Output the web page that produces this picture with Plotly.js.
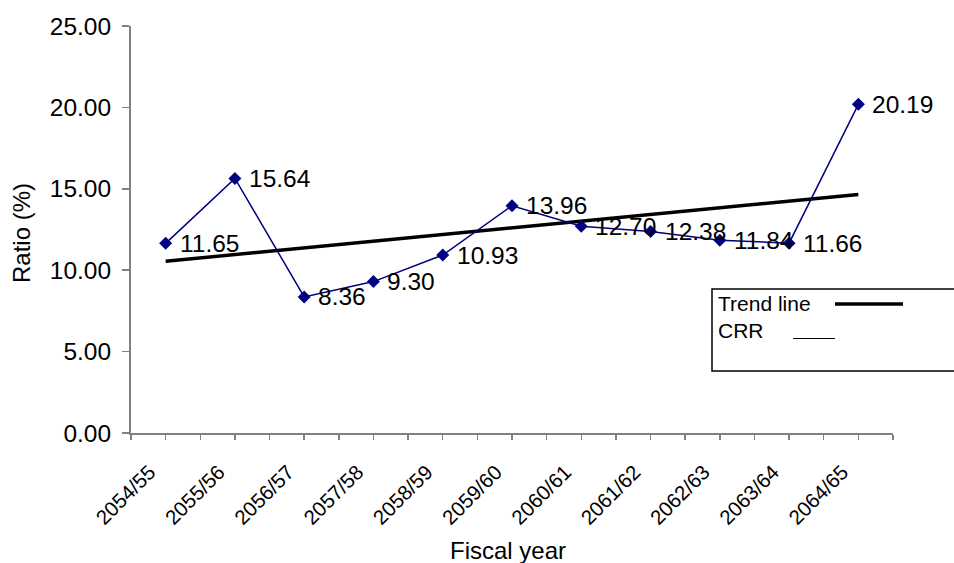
<!DOCTYPE html>
<html>
<head>
<meta charset="utf-8">
<script src="https://cdn.plot.ly/plotly-3.0.1.min.js"></script>
<style>
  html, body { margin: 0; padding: 0; background: #fff; }
  #chart { width: 954px; height: 563px; }
</style>
</head>
<body>
<div id="chart"></div>
<script>
// Fiscal years and cash reserve ratio (%)
const fiscalYears = ["2054/55", "2055/56", "2056/57", "2057/58", "2058/59", "2059/60",
                     "2060/61", "2061/62", "2062/63", "2063/64", "2064/65"];
const crrValues = [11.65, 15.64, 8.36, 9.30, 10.93, 13.96, 12.70, 12.38, 11.84, 11.66, 20.19];
const yTicks = [0, 5, 10, 15, 20, 25];

const W = 954, H = 563;
const M = { l: 131, r: 61, t: 26, b: 130 };
const plotW = W - M.l - M.r, plotH = H - M.t - M.b;
// pixel -> paper coordinates for the hand-drawn legend box and titles
const px = v => (v - M.l) / plotW;
const py = v => (H - M.b - v) / plotH;

const idx = fiscalYears.map((_, i) => i);

// least-squares trend over the fiscal-year index
const n = crrValues.length;
const mx = idx.reduce((a, b) => a + b, 0) / n;
const my = crrValues.reduce((a, b) => a + b, 0) / n;
let sxy = 0, sxx = 0;
idx.forEach((x, i) => { sxy += (x - mx) * (crrValues[i] - my); sxx += (x - mx) * (x - mx); });
const slope = sxy / sxx, icpt = my - slope * mx;
const trendY = idx.map(x => icpt + slope * x);

const font = "Liberation Sans, Arial, sans-serif";

const trend = {
  x: idx, y: trendY, mode: "lines", name: "Trend line",
  line: { color: "#000000", width: 3.5 }, hoverinfo: "skip"
};
const crr = {
  x: idx, y: crrValues, mode: "lines+markers", name: "CRR",
  line: { color: "#000080", width: 1.5 },
  marker: { symbol: "diamond", size: 10, color: "#000080" },
  cliponaxis: false
};

// value labels to the right of each point
const valueLabels = idx.map(i => ({
  xref: "x", yref: "y", x: i, y: crrValues[i],
  text: crrValues[i].toFixed(2), showarrow: false,
  xanchor: "left", yanchor: "middle", xshift: 12,
  font: { family: font, size: 24.5, color: "#000000" }
}));

const boundaries = [];
for (let i = 0; i <= n; i++) boundaries.push(i - 0.5);

const layout = {
  width: W, height: H,
  margin: M,
  paper_bgcolor: "#ffffff", plot_bgcolor: "#ffffff",
  showlegend: false,
  font: { family: font, color: "#000000" },
  xaxis: {
    range: [-0.5, n - 0.5],
    tickmode: "array", tickvals: idx, ticktext: fiscalYears,
    tickangle: -45,
    tickfont: { family: font, size: 20.5, color: "#000000" },
    ticklabelshift: -16, ticklabelstandoff: 12,
    ticks: "outside", ticklen: 5, tickcolor: "#808080", tickwidth: 1.5,
    minor: { tickmode: "array", tickvals: boundaries, ticks: "outside", ticklen: 5, tickcolor: "#808080", tickwidth: 1.5 },
    showline: true, linecolor: "#808080", linewidth: 2,
    showgrid: false, zeroline: false, fixedrange: true
  },
  yaxis: {
    range: [0, 25],
    tickmode: "array", tickvals: yTicks, ticktext: yTicks.map(v => v.toFixed(2)),
    tickfont: { family: font, size: 24.5, color: "#000000" },
    ticks: "outside", ticklen: 7, tickcolor: "#808080", tickwidth: 1.5,
    ticklabelstandoff: 6,
    showline: true, linecolor: "#808080", linewidth: 2,
    showgrid: false, zeroline: false, fixedrange: true
  },
  shapes: [
    { type: "rect", xref: "paper", yref: "paper",
      x0: px(712), x1: px(975), y0: py(371), y1: py(289),
      line: { color: "#000000", width: 1.5 }, fillcolor: "#ffffff", layer: "above" },
    { type: "line", xref: "paper", yref: "paper",
      x0: px(835), x1: px(903), y0: py(304), y1: py(304),
      line: { color: "#000000", width: 3.5 } },
    { type: "line", xref: "paper", yref: "paper",
      x0: px(793), x1: px(835), y0: py(338.5), y1: py(338.5),
      line: { color: "#000000", width: 1.2 } }
  ],
  annotations: valueLabels.concat([
    { xref: "paper", yref: "paper", x: px(716), y: py(303), xanchor: "left", yanchor: "middle",
      text: "Trend line", showarrow: false, font: { family: font, size: 21, color: "#000000" } },
    { xref: "paper", yref: "paper", x: px(716), y: py(330), xanchor: "left", yanchor: "middle",
      text: "CRR", showarrow: false, font: { family: font, size: 21, color: "#000000" } },
    { xref: "paper", yref: "paper", x: px(508), y: py(550), xanchor: "center", yanchor: "middle",
      text: "Fiscal year", showarrow: false, font: { family: font, size: 24, color: "#000000" } },
    { xref: "paper", yref: "paper", x: px(22), y: py(233), xanchor: "center", yanchor: "middle",
      text: "Ratio (%)", textangle: -90, showarrow: false, font: { family: font, size: 24, color: "#000000" } }
  ])
};

Plotly.newPlot("chart", [trend, crr], layout, { staticPlot: true, displayModeBar: false });
</script>
</body>
</html>
